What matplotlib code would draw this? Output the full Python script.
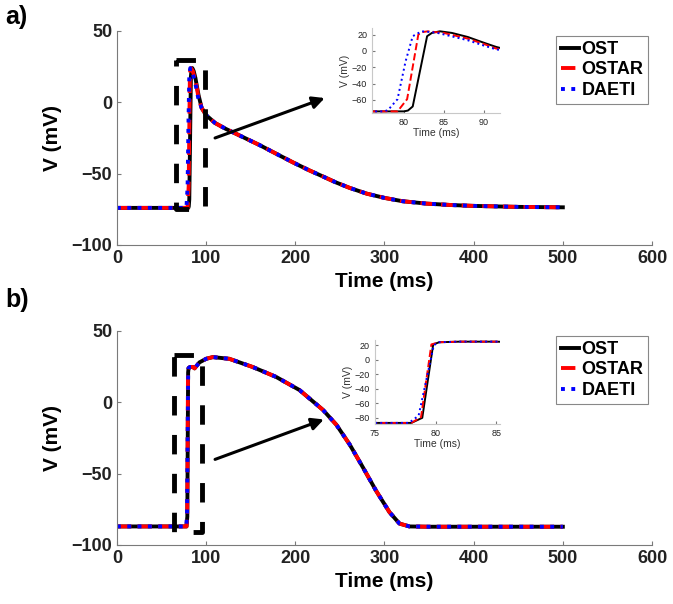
import matplotlib
matplotlib.use("Agg")
import matplotlib.pyplot as plt

plt.rcParams["font.family"] = ["Liberation Sans", "DejaVu Sans"]

# ---- data ----
labels = ["OST", "OSTAR", "DAETI"]

# panel a: upstroke differs per model, tail is shared
a_tail_t = [95, 100, 110, 122, 140, 160, 180, 197, 215, 231, 245, 261, 280, 300, 320, 347, 375, 400, 450, 500]
a_tail_v = [-4, -9, -14.5, -18.6, -24, -30, -36.5, -42, -47.5, -52, -56, -60, -64, -67, -69.3, -71, -72, -72.6, -73.3, -73.6]

a_ost_t = [0, 80, 80.5, 81.1, 82.9, 83.5, 84.5, 86, 88, 90, 91.5]
a_ost_v = [-74, -74, -73, -68, 18, 22, 24, 22, 17, 10, 5]
a_ostar_t = [0, 79.2, 80.4, 81.8, 82.3, 83, 85, 88, 90, 91.5]
a_ostar_v = [-74, -74, -59, 20, 23, 24, 22, 15, 8.5, 3]
a_daeti_t = [0, 77.5, 78, 79.2, 80.2, 81.1, 82.2, 84, 88, 90, 91.5]
a_daeti_v = [-74, -74, -72.5, -59, -13, 18, 24, 22.5, 13, 6.5, 2]

# panel b
b_tail_t = [82, 85, 87, 92.5, 100, 107.5, 126, 152, 178.5, 204.7, 231, 246, 261, 276, 290.6, 305.6, 316.8, 328, 350, 500]
b_tail_v = [24.8, 24.8, 23.8, 28, 30.5, 31.7, 30.5, 24.8, 17.8, 8.6, -5.3, -15.7, -29.6, -45.8, -62, -77, -85, -87, -87.2, -87.2]

b_ost_t = [0, 78, 78.9, 79.8, 80.3]
b_ost_v = [-87, -87, -80, 21, 24]
b_ostar_t = [0, 78, 78.8, 79.65, 80.3]
b_ostar_v = [-87, -87, -79, 21, 24]
b_daeti_t = [0, 77.8, 78.6, 79.85, 80.3]
b_daeti_v = [-87, -87, -77, 20, 24]

# zoom boxes and arrows (data coords)
a_box = [66, 99, -75, 30]
b_box = [64, 95, -91, 33]
a_arrow = [(110, -25), (233, 3)]
b_arrow = [(110, -40), (232, -12)]

styles = [dict(color="black", ls="-"),
          dict(color="red", ls="--"),
          dict(color="blue", ls=":")]

fig = plt.figure(figsize=(6.73, 6.04), dpi=100)
ax_a = fig.add_axes([0.1738, 0.5944, 0.795, 0.3543])
ax_b = fig.add_axes([0.1738, 0.0977, 0.795, 0.3543])
in_a = fig.add_axes([0.5527, 0.8129, 0.190, 0.1407])
in_b = fig.add_axes([0.557, 0.298, 0.186, 0.139])

spine_col = "#7a7a7a"


def style_axes(ax, fs, bold):
    for s in ["top", "right"]:
        ax.spines[s].set_visible(False)
    for s in ["left", "bottom"]:
        ax.spines[s].set_color(spine_col)
        ax.spines[s].set_linewidth(0.8)
    ax.tick_params(direction="in", length=3, color=spine_col, labelsize=fs,
                   labelcolor="#222222")
    for lab in ax.get_xticklabels() + ax.get_yticklabels():
        lab.set_fontweight("bold" if bold else "normal")


series_a = [(a_ost_t + a_tail_t, a_ost_v + a_tail_v),
            (a_ostar_t + a_tail_t, a_ostar_v + a_tail_v),
            (a_daeti_t + a_tail_t, a_daeti_v + a_tail_v)]
series_b = [(b_ost_t + b_tail_t, b_ost_v + b_tail_v),
            (b_ostar_t + b_tail_t, b_ostar_v + b_tail_v),
            (b_daeti_t + b_tail_t, b_daeti_v + b_tail_v)]

for ax, inset, series, box, arrow, ylim_in, xlim_in, xt_in, yt_in in [
        (ax_a, in_a, series_a, a_box, a_arrow, (-76, 28), (76, 92), [80, 85, 90], [-60, -40, -20, 0, 20]),
        (ax_b, in_b, series_b, b_box, b_arrow, (-88.5, 27), (75, 85.3), [75, 80, 85], [-80, -60, -40, -20, 0, 20])]:
    for (t, v), st, lab in zip(series, styles, labels):
        ax.plot(t, v, lw=2.8, label=lab, **st)
        inset.plot(t, v, lw=1.4, **st)

    # dashed zoom box
    x0, x1, y0, y1 = box
    ax.plot([x0, x1, x1, x0, x0], [y1, y1, y0, y0, y1], color="black",
            lw=3.5, dashes=(4, 4), solid_capstyle="butt")
    ax.annotate("", xy=arrow[1], xytext=arrow[0],
                arrowprops=dict(arrowstyle="-|>", lw=2.2, color="black",
                                mutation_scale=18, shrinkA=0, shrinkB=0))

    ax.set_xlim(0, 600)
    ax.set_ylim(-100, 50)
    ax.set_xticks([0, 100, 200, 300, 400, 500, 600])
    ax.set_yticks([-100, -50, 0, 50])
    style_axes(ax, 13, True)
    ax.set_xlabel("Time (ms)", fontsize=15, fontweight="bold", labelpad=4)
    ax.set_ylabel("V (mV)", fontsize=15, fontweight="bold", labelpad=7)

    leg = ax.legend(loc="upper right", bbox_to_anchor=(0.993, 0.975),
                    prop={"weight": "bold", "size": 13},
                    handlelength=1.0, handletextpad=0.15, labelspacing=0.2,
                    borderpad=0.25, borderaxespad=0, fancybox=False, framealpha=1)
    leg.get_frame().set_edgecolor("#888888")
    leg.get_frame().set_linewidth(0.8)

    inset.set_xlim(*xlim_in)
    inset.set_ylim(*ylim_in)
    inset.set_xticks(xt_in)
    inset.set_yticks(yt_in)
    style_axes(inset, 6.5, False)
    inset.tick_params(length=2)
    inset.spines["left"].set_color("#c8c8c8")
    inset.spines["bottom"].set_color("#c8c8c8")
    inset.set_xlabel("Time (ms)", fontsize=7.5, labelpad=1, color="#333333")
    inset.set_ylabel("V (mV)", fontsize=7.5, labelpad=1, color="#333333")

fig.text(0.008, 0.972, "a)", fontsize=18, fontweight="bold", va="center")
fig.text(0.008, 0.503, "b)", fontsize=18, fontweight="bold", va="center")

fig.savefig("out.png", dpi=100)
